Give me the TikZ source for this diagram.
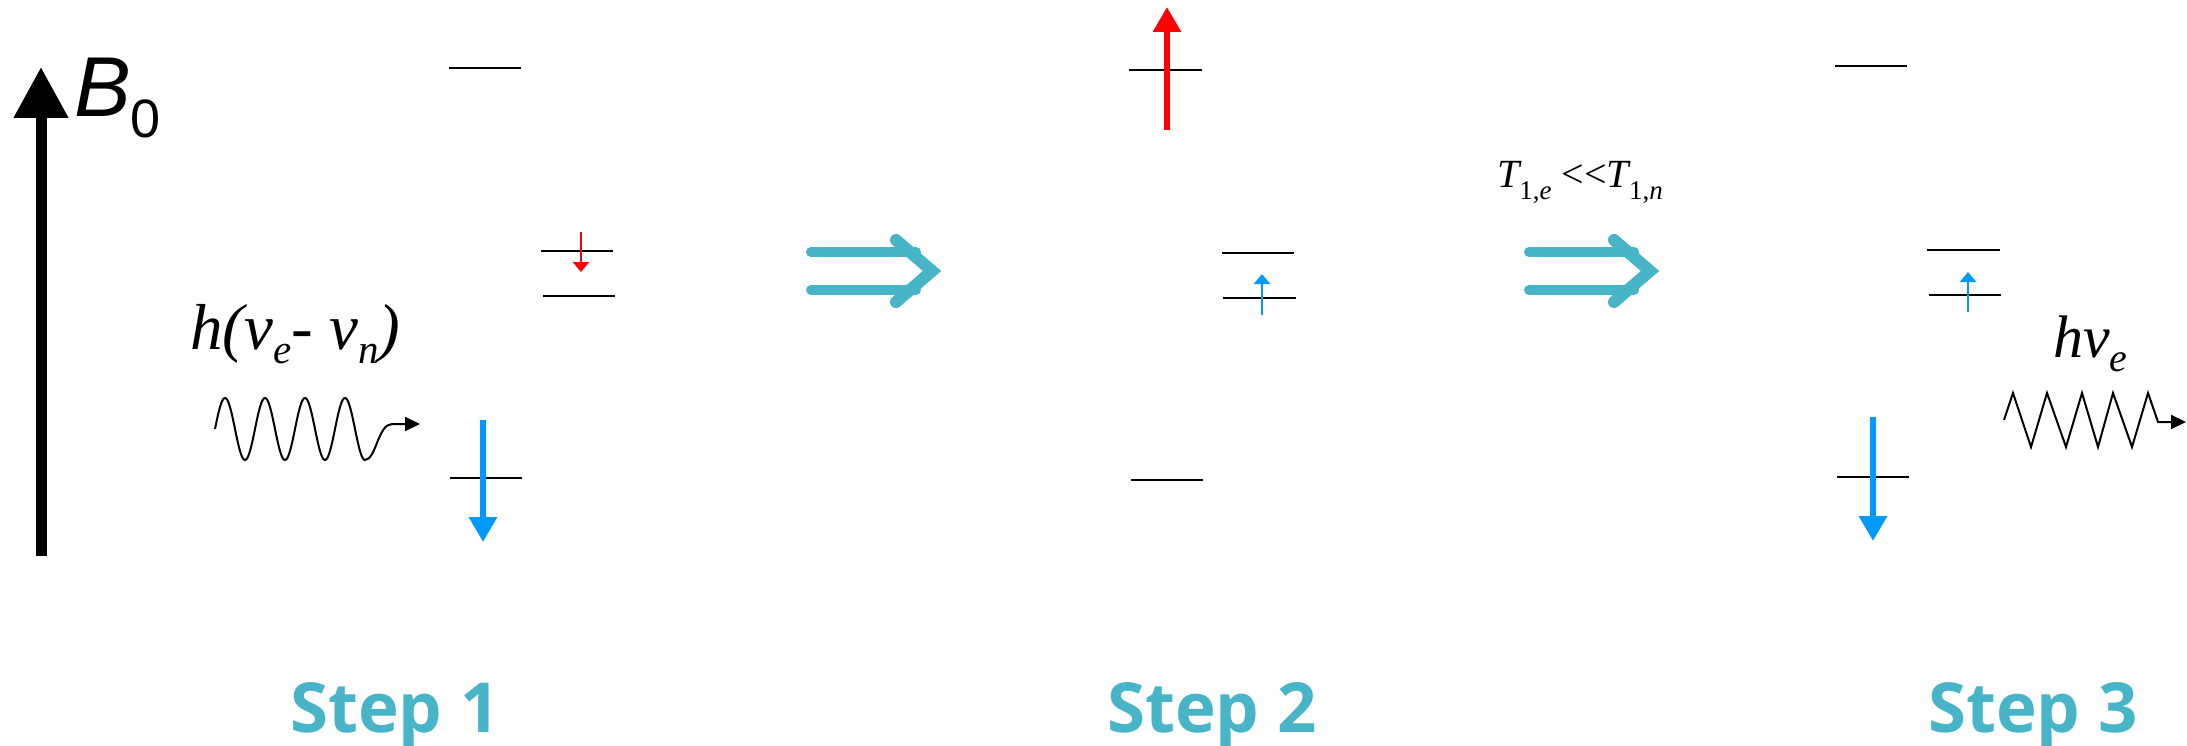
\documentclass[tikz,border=0pt]{standalone}
\usepackage{fontspec}
\setmainfont{Liberation Serif}
\newfontfamily\arialf{Liberation Sans}
\newfontfamily\stepf{Open Sans}
\usetikzlibrary{arrows.meta}
\definecolor{tealc}{RGB}{71,180,200}
\definecolor{spinblue}{RGB}{0,153,255}
\definecolor{spinred}{RGB}{255,0,0}
\begin{document}
\begin{tikzpicture}[x=1pt,y=-1pt,
  level/.style={line width=2.6pt, black},
  bigspin/.style={line width=6pt,-{Triangle[length=25pt,width=27pt]}},
  smallspin/.style={line width=2.6pt,-{Triangle[length=10pt,width=16pt]}},
  bar/.style={tealc, line width=10pt, line cap=round},
  chev/.style={tealc, line width=12pt, line cap=round, line join=miter},
  steplabel/.style={anchor=base, inner sep=0pt, text=tealc, font=\stepf\bfseries\fontsize{69}{69}\selectfont},
  photon/.style={line width=2pt, -{Triangle[length=15pt,width=14pt]}}
]
\useasboundingbox (0,0) rectangle (2187,746);

% B0 axis
\coordinate (bbot) at (41,556);
\coordinate (btop) at (41,67);
\draw[line width=11pt, -{Triangle[length=51pt,width=52pt]}] (bbot) -- (btop);
\node[anchor=base west, inner sep=0pt] (b0) at (74,117)
  {\arialf\fontsize{85}{85}\selectfont\itshape B\raisebox{-21pt}{\upshape\fontsize{54}{54}\selectfont 0}};

% Step 1
\draw[level] (449,68) -- (521,68);
\draw[level] (541,251) -- (613,251);
\draw[level] (543,296) -- (615,296);
\draw[level] (450,478) -- (522,478);
\draw[smallspin, spinred] (581,232) -- (581,272);
\draw[bigspin, spinblue] (483,420) -- (483,542);

\node[anchor=base west, inner sep=0pt] (hv1) at (190,349)
  {\fontsize{65}{65}\selectfont\itshape h(v\raisebox{-14pt}{\fontsize{41}{41}\selectfont e}- v\raisebox{-14pt}{\fontsize{41}{41}\selectfont n})};
\draw[photon] plot[domain=0:3.75, samples=200, smooth] ({215+40*\x},{429-31*sin(360*\x)})
  .. controls (376,460) and (378,424) .. (392,424) -- (420,424);

% Double arrow 1
\draw[bar] (811,252) -- (916,252);
\draw[bar] (811,290) -- (916,290);
\draw[chev] (896,240) -- (932,271) -- (896,302);

% Step 2
\draw[level] (1129,70) -- (1202,70);
\draw[level] (1222,253) -- (1294,253);
\draw[level] (1223,298) -- (1296,298);
\draw[level] (1131,480) -- (1203,480);
\draw[bigspin, spinred] (1167,130) -- (1167,7);
\draw[smallspin, spinblue] (1262,315) -- (1262,274);

% T label and double arrow 2
\node[anchor=base west, inner sep=0pt] (t1) at (1497,188)
  {\fontsize{40}{40}\selectfont\itshape T\raisebox{-12pt}{\fontsize{27}{27}\selectfont\upshape 1,\itshape e} \upshape<\kern0pt<\itshape T\raisebox{-12pt}{\fontsize{27}{27}\selectfont\upshape 1,\itshape n}};
\begin{scope}[xshift=718pt]
\draw[bar] (811,252) -- (916,252);
\draw[bar] (811,290) -- (916,290);
\draw[chev] (896,240) -- (932,271) -- (896,302);
\end{scope}

% Step 3
\draw[level] (1835,66) -- (1907,66);
\draw[level] (1927,250) -- (2000,250);
\draw[level] (1929,295) -- (2001,295);
\draw[level] (1837,477) -- (1909,477);
\draw[smallspin, spinblue] (1968,312) -- (1968,272);
\draw[bigspin, spinblue] (1873,417) -- (1873,541);

\node[anchor=base west, inner sep=0pt] (hv2) at (2053,357)
  {\fontsize{60}{60}\selectfont\itshape hv\raisebox{-14pt}{\fontsize{40}{40}\selectfont e}};
\draw[photon] (2004,420) -- (2013,393) -- (2031,447) -- (2047,393) -- (2066,447) -- (2082,393)
  -- (2098,447) -- (2113,393) -- (2132,447) -- (2148,393) -- (2158,422) -- (2186,422);

% Step labels
\node[steplabel] (s1) at (395,732) {Step 1};
\node[steplabel] (s2) at (1212,732) {Step 2};
\node[steplabel] (s3) at (2033,732) {Step 3};
\end{tikzpicture}
\end{document}
